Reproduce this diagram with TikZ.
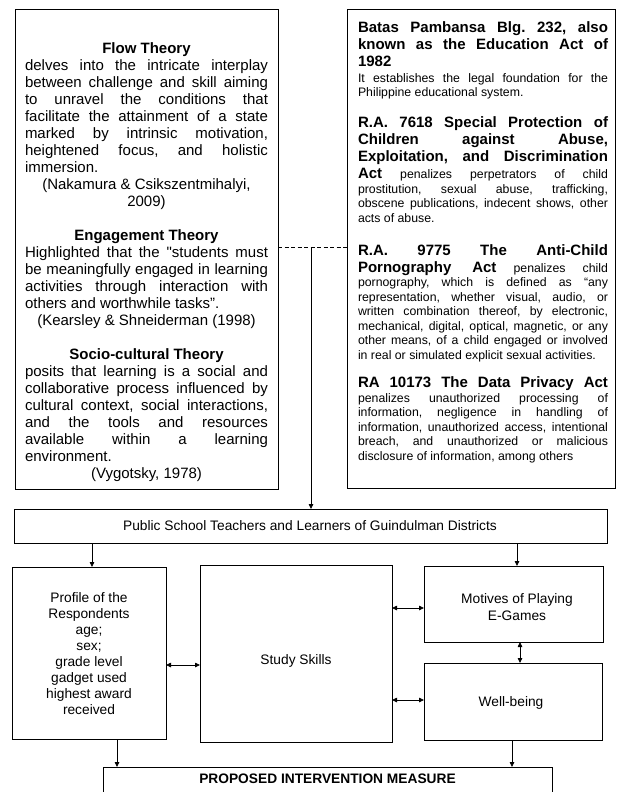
\documentclass[tikz,border=0pt]{standalone}
\usepackage{fontspec}
\setmainfont{Liberation Sans}
\usetikzlibrary{arrows.meta}
\frenchspacing
\newcommand{\Rj}[2]{{\baselineskip=#1\relax\hbox to\hsize{#2}}}
\newcommand{\Rl}[2]{{\baselineskip=#1\relax\hbox to\hsize{#2\hfil}}}
\newcommand{\Rc}[2]{{\baselineskip=#1\relax\hbox to\hsize{\hfil#2\hfil}}}
\newcommand{\headf}{\fontsize{15pt}{17pt}\selectfont\bfseries}
\newcommand{\bodyf}{\fontsize{12.3pt}{14.4pt}\selectfont}
\newcommand{\theof}{\fontsize{15pt}{17pt}\selectfont}
\newcommand{\midf}{\fontsize{13.75pt}{16pt}\selectfont}
\newcommand{\sq}{{\addfontfeatures{Ligatures=TeXOff}"}}
\tikzset{
  frame/.style={draw=black, line width=0.8pt, rectangle, inner sep=0pt, outer sep=0pt},
  txt/.style={inner sep=0pt, outer sep=0pt, text=black},
  midtxt/.style={txt, align=center, font=\midf},
  arr/.style={line width=0.8pt, -{Triangle[length=5pt,width=4.5pt]}},
  darr/.style={line width=0.8pt, {Triangle[length=5pt,width=4.5pt]}-{Triangle[length=5pt,width=4.5pt]}},
  dashline/.style={line width=0.8pt, dash pattern=on 4pt off 2.5pt}
}
\begin{document}
\begin{tikzpicture}[x=1pt,y=-1pt]
\useasboundingbox (0,0) rectangle (616,792);
\fill[white] (0,0) rectangle (616,792);
\clip (0,0) rectangle (616,792);

% boxes
\node[frame, minimum width=263pt, minimum height=480pt] (theo) at (146.5,249) {};
\node[frame, minimum width=268pt, minimum height=479pt] (law) at (481,248.5) {};
\node[frame, minimum width=593pt, minimum height=34pt] (pub) at (310.5,526) {};
\node[frame, minimum width=154pt, minimum height=172pt] (prof) at (89,653) {};
\node[frame, minimum width=192pt, minimum height=177pt] (study) at (296,653.5) {};
\node[frame, minimum width=179pt, minimum height=76pt] (mot) at (513.5,604) {};
\node[frame, minimum width=178pt, minimum height=77pt] (well) at (513,701.5) {};
\node[frame, minimum width=449pt, minimum height=48pt] (prop) at (327.5,791) {};

% left box text
\node[txt, anchor=north west] (theot) at (25,9) {\vbox{\hsize=243pt \theof\hbox{}%
\Rc{44pt}{\bfseries Flow Theory}%
\Rj{17pt}{delves into the intricate interplay}%
\Rj{17pt}{between challenge and skill aiming}%
\Rj{17pt}{to unravel the conditions that}%
\Rj{17pt}{facilitate the attainment of a state}%
\Rj{17pt}{marked by intrinsic motivation,}%
\Rj{17pt}{heightened focus, and holistic}%
\Rl{17pt}{immersion.}%
\Rc{17pt}{(Nakamura \& Csikszentmihalyi,}%
\Rc{17pt}{2009)}%
\Rc{34pt}{\bfseries Engagement Theory}%
\Rj{17pt}{Highlighted that the \sq students must}%
\Rj{17pt}{be meaningfully engaged in learning}%
\Rj{17pt}{activities through interaction with}%
\Rl{17pt}{others and worthwhile tasks”.}%
\Rc{17pt}{(Kearsley \& Shneiderman (1998)}%
\Rc{34pt}{\bfseries Socio-cultural Theory}%
\Rj{17pt}{posits that learning is a social and}%
\Rj{17pt}{collaborative process influenced by}%
\Rj{17pt}{cultural context, social interactions,}%
\Rj{17pt}{and the tools and resources}%
\Rj{17pt}{available within a learning}%
\Rl{17pt}{environment.}%
\Rc{17pt}{(Vygotsky, 1978)}%
}};

% right box text
\node[txt, anchor=north west] (lawt) at (358,9) {\vbox{\hsize=250pt \bodyf\hbox{}%
\Rj{23.5pt}{\headf Batas Pambansa Blg. 232, also}%
\Rj{17pt}{\headf known as the Education Act of}%
\Rl{17pt}{\headf 1982}%
\Rj{16pt}{It establishes the legal foundation for the}%
\Rl{14.4pt}{Philippine educational system.}%
\Rj{31pt}{\headf R.A. 7618 Special Protection of}%
\Rj{17pt}{\headf Children against Abuse,}%
\Rj{17pt}{\headf Exploitation, and Discrimination}%
\Rj{17pt}{{\headf Act} penalizes perpetrators of child}%
\Rj{14.4pt}{prostitution, sexual abuse, trafficking,}%
\Rj{14.4pt}{obscene publications, indecent shows, other}%
\Rl{14.4pt}{acts of abuse.}%
\Rj{33pt}{\headf R.A. 9775 The Anti-Child}%
\Rj{17pt}{{\headf Pornography Act} penalizes child}%
\Rj{14.5pt}{pornography, which is defined as “any}%
\Rj{14.5pt}{representation, whether visual, audio, or}%
\Rj{14.5pt}{written combination thereof, by electronic,}%
\Rj{14.5pt}{mechanical, digital, optical, magnetic, or any}%
\Rj{14.5pt}{other means, of a child engaged or involved}%
\Rl{14.5pt}{in real or simulated explicit sexual activities.}%
\Rj{28.4pt}{\headf RA 10173 The Data Privacy Act}%
\Rj{15pt}{penalizes unauthorized processing of}%
\Rj{14.4pt}{information, negligence in handling of}%
\Rj{14.4pt}{information, unauthorized access, intentional}%
\Rj{14.4pt}{breach, and unauthorized or malicious}%
\Rl{14.4pt}{disclosure of information, among others}%
}};

% other texts
\node[midtxt] (pubt) at (310,526) {Public School Teachers and Learners of Guindulman Districts};
\node[midtxt] (proft) at (89,654) {Profile of the\\Respondents\\age;\\sex;\\grade level\\gadget used\\highest award\\received};
\node[midtxt] (studyt) at (296,661) {Study Skills};
\node[midtxt, font=\fontsize{13.75pt}{17pt}\selectfont] (mott) at (517,607) {Motives of Playing\\E-Games};
\node[midtxt] (wellt) at (511,703) {Well-being};
\node[txt, anchor=base, font=\fontsize{13.75pt}{16pt}\selectfont\bfseries] (propt) at (327.5,783) {PROPOSED INTERVENTION MEASURE};

% coordinates for connector positions
\coordinate (dj) at (311,247);
\coordinate (xa) at (92,0);
\coordinate (xb) at (517,0);
\coordinate (xc) at (117,0);
\coordinate (xd) at (512,0);
\coordinate (xe) at (520,0);
\coordinate (ya) at (0,665);
\coordinate (yb) at (0,608);
\coordinate (yc) at (0,700);

% connectors
\draw[dashline] (theo.east |- dj) -- (law.west |- dj);
\draw[arr] (dj) -- (dj |- pub.north);
\draw[arr] (pub.south -| xa) -- (prof.north -| xa);
\draw[arr] (pub.south -| xb) -- (mot.north -| xb);
\draw[darr] (prof.east |- ya) -- (study.west |- ya);
\draw[darr] (study.east |- yb) -- (mot.west |- yb);
\draw[darr] (study.east |- yc) -- (well.west |- yc);
\draw[darr] (mot.south -| xe) -- (well.north -| xe);
\draw[arr] (prof.south -| xc) -- (prop.north -| xc);
\draw[arr] (well.south -| xd) -- (prop.north -| xd);
\end{tikzpicture}
\end{document}
